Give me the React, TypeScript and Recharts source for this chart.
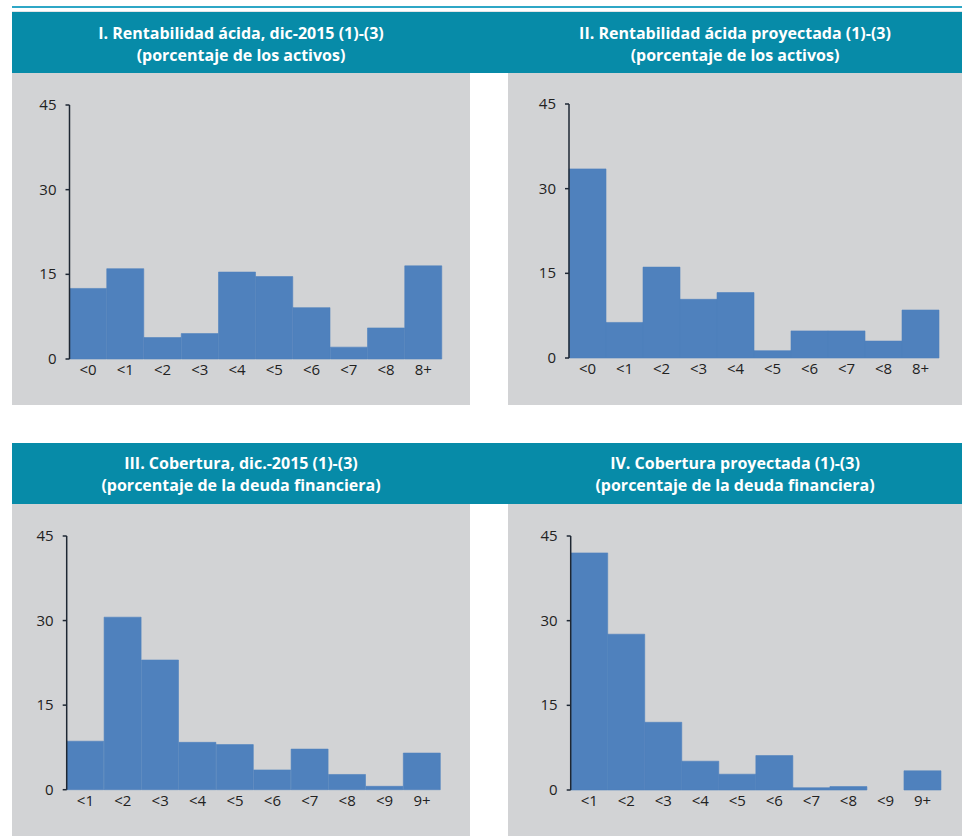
import { BarChart, Bar, XAxis, YAxis } from 'recharts';

const catsRent = ['<0', '<1', '<2', '<3', '<4', '<5', '<6', '<7', '<8', '8+'];
const catsCob = ['<1', '<2', '<3', '<4', '<5', '<6', '<7', '<8', '<9', '9+'];

const rentDic = [12.5, 16.0, 3.8, 4.5, 15.4, 14.6, 9.1, 2.1, 5.5, 16.5];
const rentProy = [33.5, 6.3, 16.1, 10.4, 11.6, 1.3, 4.8, 4.8, 3.0, 8.5];
const cobDic = [8.6, 30.6, 23.0, 8.4, 8.0, 3.5, 7.2, 2.7, 0.6, 6.5];
const cobProy = [42.0, 27.6, 12.0, 5.1, 2.8, 6.1, 0.4, 0.6, 0.0, 3.4];

const yTicks = [0, 15, 30, 45];
const edgeTicks = [0, 1, 2, 3, 4, 5, 6, 7, 8, 9, 10];

const TEAL = '#078ba8';
const GREY = '#d2d3d5';
const BAR = '#4f81bd';
const AXIS = '#1e2733';
const TICK_FONT = '"Open Sans", "Noto Sans", sans-serif';
const TITLE_FONT = '"Open Sans", sans-serif';

// explicit tick text so the size is what we ask for
function XTick(props: any) {
  const { x, y, payload } = props;
  return (
    <text x={x} y={y + 16} textAnchor="middle" fill="#222" fontSize={15} fontFamily={TICK_FONT}>
      {payload.value}
    </text>
  );
}

function YTick(props: any) {
  const { x, y, payload } = props;
  return (
    <text x={x} y={y + 5} textAnchor="end" fill="#222" fontSize={15} fontFamily={TICK_FONT}>
      {payload.value}
    </text>
  );
}

type Geo = { left: number; top: number; width: number; height: number; mTop: number; mRight: number; yW: number; xH: number };

function Histogram({ geo, cats, values }: { geo: Geo; cats: string[]; values: number[] }) {
  const data = cats.map((c, i) => ({ cat: c, v: values[i] }));
  return (
    <div style={{ position: 'absolute', left: geo.left, top: geo.top, width: geo.width, height: geo.height, background: GREY }}>
      <BarChart
        width={geo.width}
        height={geo.height}
        data={data}
        margin={{ top: geo.mTop, right: geo.mRight, bottom: 0, left: 0 }}
        barCategoryGap={0}
        barGap={0}
      >
        <XAxis
          xAxisId="edge"
          type="number"
          domain={[0, 10]}
          ticks={edgeTicks}
          interval={0}
          tick={false}
          tickSize={4}
          height={0}
          axisLine={{ stroke: AXIS, strokeWidth: 2 }}
          tickLine={{ stroke: AXIS, strokeWidth: 1.5 }}
        />
        <XAxis
          xAxisId="cat"
          dataKey="cat"
          interval={0}
          axisLine={false}
          tickLine={false}
          height={geo.xH}
          tickSize={0}
          tickMargin={0}
          tick={<XTick />}
        />
        <YAxis
          domain={[0, 45]}
          ticks={yTicks}
          interval={0}
          width={geo.yW}
          tickSize={4}
          tickMargin={9}
          axisLine={{ stroke: AXIS, strokeWidth: 1.5 }}
          tickLine={{ stroke: AXIS, strokeWidth: 1.5 }}
          tick={<YTick />}
        />
        <Bar xAxisId="cat" dataKey="v" fill={BAR} stroke={BAR} strokeWidth={0.6} isAnimationActive={false} />
      </BarChart>
    </div>
  );
}

function Title({ left, width, top, lines }: { left: number; width: number; top: number; lines: string[] }) {
  return (
    <div
      style={{
        position: 'absolute',
        left,
        width,
        top,
        textAlign: 'center',
        color: '#fff',
        fontFamily: TITLE_FONT,
        fontWeight: 700,
        fontSize: 16,
        lineHeight: '22px',
      }}
    >
      {lines.map((l) => (
        <div key={l}>{l}</div>
      ))}
    </div>
  );
}

export default function App() {
  return (
    <div style={{ position: 'absolute', left: 0, top: 0, width: 962, height: 837, background: '#fff', overflow: 'hidden' }}>
      <div style={{ position: 'absolute', left: 12, top: 6, width: 950, height: 2, background: '#2fa7c6' }} />
      <div style={{ position: 'absolute', left: 12, top: 11, width: 950, height: 1, background: '#e2e4e6' }} />
      <div style={{ position: 'absolute', left: 12, top: 12, width: 950, height: 61, background: TEAL }} />
      <div style={{ position: 'absolute', left: 12, top: 443, width: 950, height: 61, background: TEAL }} />

      <Title left={12} width={458} top={22} lines={['I. Rentabilidad ácida, dic-2015 (1)-(3)', '(porcentaje de los activos)']} />
      <Title left={508} width={454} top={22} lines={['II. Rentabilidad ácida proyectada (1)-(3)', '(porcentaje de los activos)']} />
      <Title left={12} width={458} top={452} lines={['III. Cobertura, dic.-2015 (1)-(3)', '(porcentaje de la deuda financiera)']} />
      <Title left={508} width={454} top={452} lines={['IV. Cobertura proyectada (1)-(3)', '(porcentaje de la deuda financiera)']} />

      <Histogram
        geo={{ left: 12, top: 73, width: 458, height: 332, mTop: 32, mRight: 28, yW: 57.5, xH: 46 }}
        cats={catsRent}
        values={rentDic}
      />
      <Histogram
        geo={{ left: 508, top: 73, width: 454, height: 332, mTop: 31, mRight: 23, yW: 61, xH: 47 }}
        cats={catsRent}
        values={rentProy}
      />
      <Histogram
        geo={{ left: 12, top: 504, width: 458, height: 332, mTop: 32, mRight: 29.3, yW: 54.7, xH: 46.3 }}
        cats={catsCob}
        values={cobDic}
      />
      <Histogram
        geo={{ left: 508, top: 504, width: 454, height: 332, mTop: 32, mRight: 21, yW: 62.7, xH: 46 }}
        cats={catsCob}
        values={cobProy}
      />
    </div>
  );
}
